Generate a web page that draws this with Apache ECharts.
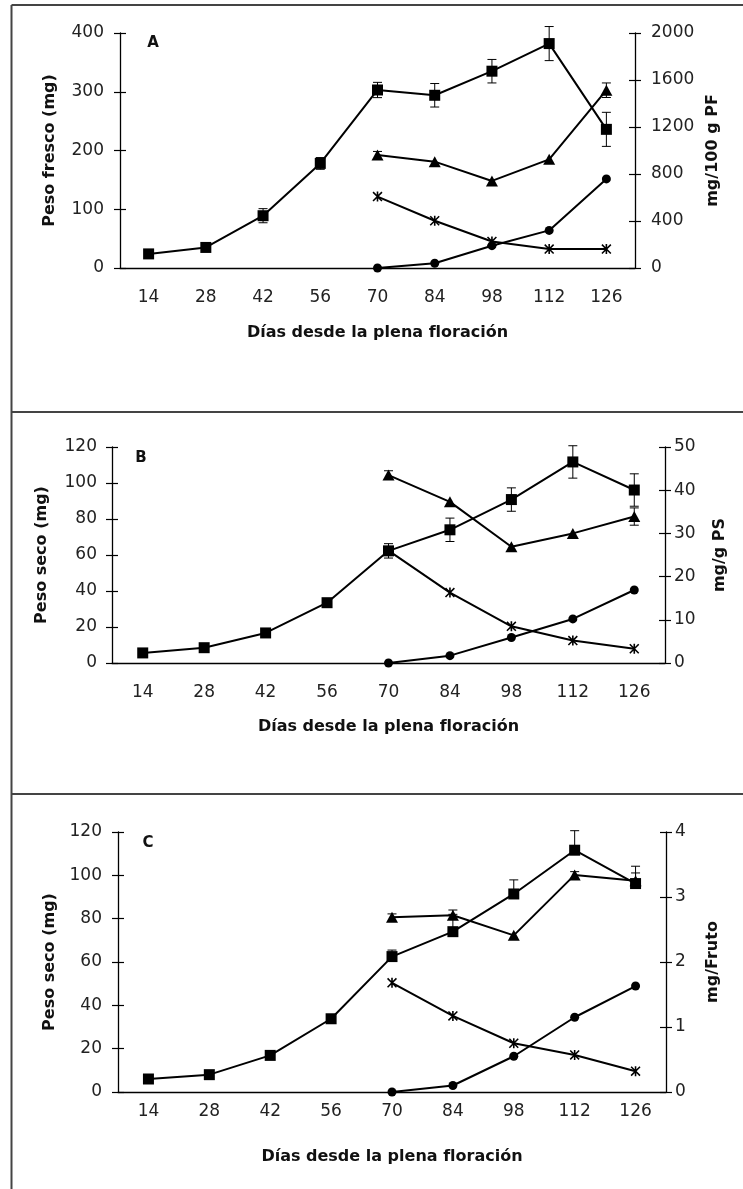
<!DOCTYPE html>
<html lang="es">
<head>
<meta charset="UTF-8">
<title>Peso fresco y seco</title>
<style>
  html,body{margin:0;width:100%;height:100%;background:#fff;}
  #chart{width:743px;height:1189px;}
</style>
</head>
<body>
<div id="chart"></div>
<script src="https://cdn.jsdelivr.net/npm/echarts@6/dist/echarts.min.js"></script>
<script>
// días desde la plena floración
var days = ['14', '28', '42', '56', '70', '84', '98', '112', '126'];

// A: peso fresco (mg) y mg/100 g PF
var squaresA = [24, 35, 89, 178, 303, 294, 335, 382, 236];
var squaresErrA = [0, 0, 12, 10, 13, 20, 20, 29, 29];
var trianglesA = [null, null, null, null, 962, 905, 741, 925, 1513];
var trianglesErrA = [0, 0, 0, 0, 30, 0, 0, 0, 62];
var circlesA = [null, null, null, null, 0, 40, 190, 320, 758];
var starsA = [null, null, null, null, 608, 402, 226, 161, 161];

// B: peso seco (mg) y mg/g PS
var squaresB = [5.6, 8.5, 16.7, 33.5, 62.3, 74, 90.8, 111.7, 96.1];
var squaresErrB = [0, 0, 0, 0, 4, 6.5, 6.5, 9, 9];
var trianglesB = [null, null, null, null, 43.5, 37.3, 26.9, 30.0, 33.9];
var trianglesErrB = [0, 0, 0, 0, 1, 0, 0, 0, 2];
var circlesB = [null, null, null, null, 0, 1.7, 5.9, 10.2, 16.9];
var starsB = [null, null, null, null, 26, 16.3, 8.5, 5.2, 3.3];

// C: peso seco (mg) y mg/Fruto
var squaresC = [6, 8, 16.9, 33.8, 62.5, 74, 91.4, 111.6, 96.2];
var squaresErrC = [0, 0, 0, 0, 3, 8, 6.5, 9, 8];
var trianglesC = [null, null, null, null, 2.69, 2.72, 2.41, 3.34, 3.25];
var trianglesErrC = [0, 0, 0, 0, 0.05, 0.08, 0, 0.05, 0.12];
var circlesC = [null, null, null, null, 0, 0.1, 0.55, 1.15, 1.63];
var starsC = [null, null, null, null, 1.68, 1.17, 0.75, 0.57, 0.32];

var xTitle = 'Días desde la plena floración';

var panels = [
  { letter: 'A', leftName: 'Peso fresco (mg)', rightName: 'mg/100 g PF',
    leftMax: 400, leftStep: 100, rightMax: 2000, rightStep: 400,
    squares: squaresA, squaresErr: squaresErrA, bothSides: true,
    triangles: trianglesA, trianglesErr: trianglesErrA, circles: circlesA, stars: starsA,
    grid: { left: 120, top: 33, width: 515, height: 235 },
    leftNameX: 50, rightNameX: 713, xNameY: 333, letterX: 153, letterY: 43,
    xLabelMargin: 21, leftLabelMargin: 16, rightLabelMargin: 16 },
  { letter: 'B', leftName: 'Peso seco (mg)', rightName: 'mg/g PS',
    leftMax: 120, leftStep: 20, rightMax: 50, rightStep: 10,
    squares: squaresB, squaresErr: squaresErrB, bothSides: true,
    triangles: trianglesB, trianglesErr: trianglesErrB, circles: circlesB, stars: starsB,
    grid: { left: 112, top: 447, width: 553, height: 216 },
    leftNameX: 42, rightNameX: 720, xNameY: 727, letterX: 141, letterY: 458,
    xLabelMargin: 21, leftLabelMargin: 15, rightLabelMargin: 9 },
  { letter: 'C', leftName: 'Peso seco (mg)', rightName: 'mg/Fruto',
    leftMax: 120, leftStep: 20, rightMax: 4, rightStep: 1,
    squares: squaresC, squaresErr: squaresErrC, bothSides: false,
    triangles: trianglesC, trianglesErr: trianglesErrC, circles: circlesC, stars: starsC,
    grid: { left: 118, top: 832, width: 548, height: 260 },
    leftNameX: 50, rightNameX: 713, xNameY: 1157, letterX: 148, letterY: 843,
    xLabelMargin: 11, leftLabelMargin: 16, rightLabelMargin: 9 }
];

var tickFont = { fontFamily: 'DejaVu Sans', fontSize: 17, color: '#222' };
var boldFont = 'bold 16px "DejaVu Sans"';
var starPath = 'path://M4.2,0H5.8V10H4.2Z M0,1.1L1.1,0L10,8.9L8.9,10Z M8.9,0L10,1.1L1.1,10L0,8.9Z';

function errItems(values, errs, both) {
  var out = [];
  values.forEach(function (v, i) {
    if (v != null && errs[i] > 0) out.push([i, v, both ? errs[i] : 0, errs[i]]);
  });
  return out;
}

function renderErr(params, api) {
  var x = api.value(0), v = api.value(1), lo = api.value(2), hi = api.value(3);
  var top = api.coord([x, v + hi]);
  var bot = api.coord([x, v - lo]);
  var st = { stroke: '#000', lineWidth: 1 };
  var kids = [{ type: 'line', shape: { x1: top[0], y1: top[1], x2: bot[0], y2: bot[1] }, style: st }];
  if (hi > 0) kids.push({ type: 'line', shape: { x1: top[0] - 4.5, y1: top[1], x2: top[0] + 4.5, y2: top[1] }, style: st });
  if (lo > 0) kids.push({ type: 'line', shape: { x1: bot[0] - 4.5, y1: bot[1], x2: bot[0] + 4.5, y2: bot[1] }, style: st });
  return { type: 'group', children: kids };
}

function lineSeries(xi, yi, data, symbol, size) {
  return {
    type: 'line', xAxisIndex: xi, yAxisIndex: yi, data: data,
    symbol: symbol, symbolSize: size, showAllSymbol: true, z: 3,
    lineStyle: { color: '#000', width: 2 },
    itemStyle: { color: '#000' }
  };
}

function plain(v) { return String(v); }

var grids = [], xAxes = [], yAxes = [], series = [], graphic = [];
var axisLine = { show: true, lineStyle: { color: '#000', width: 1.3 } };
var tickStyle = { color: '#000', width: 1.2 };

panels.forEach(function (p, i) {
  grids.push(p.grid);
  var xi = 2 * i, yl = 4 * i, yr = 4 * i + 2;

  xAxes.push({ type: 'category', gridIndex: i, data: days, position: 'bottom',
    axisLine: axisLine, axisTick: { length: 5, lineStyle: tickStyle },
    axisLabel: Object.assign({ margin: p.xLabelMargin }, tickFont) });
  xAxes.push({ type: 'category', gridIndex: i, data: days, position: 'bottom',
    axisLine: { show: false }, axisTick: { inside: true, length: 6, lineStyle: tickStyle },
    axisLabel: { show: false } });

  [['left', p.leftMax, p.leftStep, p.leftLabelMargin], ['right', p.rightMax, p.rightStep, p.rightLabelMargin]].forEach(function (a) {
    yAxes.push({ type: 'value', gridIndex: i, position: a[0], min: 0, max: a[1], interval: a[2],
      axisLine: axisLine, axisTick: { show: true, length: 6, lineStyle: tickStyle },
      splitLine: { show: false },
      axisLabel: Object.assign({ margin: a[3], formatter: plain }, tickFont) });
    yAxes.push({ type: 'value', gridIndex: i, position: a[0], min: 0, max: a[1], interval: a[2],
      axisLine: { show: false }, axisTick: { show: true, inside: true, length: 6, lineStyle: tickStyle },
      splitLine: { show: false }, axisLabel: { show: false } });
  });

  series.push({ type: 'custom', xAxisIndex: xi, yAxisIndex: yl, renderItem: renderErr, z: 2,
    encode: { x: 0, y: 1 }, data: errItems(p.squares, p.squaresErr, p.bothSides) });
  series.push({ type: 'custom', xAxisIndex: xi, yAxisIndex: yr, renderItem: renderErr, z: 2,
    encode: { x: 0, y: 1 }, data: errItems(p.triangles, p.trianglesErr, p.bothSides) });
  series.push(lineSeries(xi, yl, p.squares, 'rect', 11));
  series.push(lineSeries(xi, yr, p.triangles, 'triangle', [12, 11]));
  series.push(lineSeries(xi, yr, p.circles, 'circle', 9));
  series.push(lineSeries(xi, yr, p.stars, starPath, [10, 10]));

  var midY = p.grid.top + p.grid.height / 2;
  var midX = p.grid.left + p.grid.width / 2;
  graphic.push({ type: 'text', x: p.leftNameX, y: midY, rotation: Math.PI / 2,
    style: { text: p.leftName, font: boldFont, fill: '#111', align: 'center', verticalAlign: 'middle' } });
  graphic.push({ type: 'text', x: p.rightNameX, y: midY, rotation: Math.PI / 2,
    style: { text: p.rightName, font: boldFont, fill: '#111', align: 'center', verticalAlign: 'middle' } });
  graphic.push({ type: 'text', x: midX, y: p.xNameY,
    style: { text: xTitle, font: boldFont, fill: '#111', align: 'center', verticalAlign: 'middle' } });
  graphic.push({ type: 'text', x: p.letterX, y: p.letterY,
    style: { text: p.letter, font: 'bold 15px "DejaVu Sans"', fill: '#111', align: 'center', verticalAlign: 'middle' } });
});

// marcos de los paneles
var frame = { stroke: '#444', lineWidth: 2 };
[[11.5, 5, 11.5, 1189], [11.5, 5, 743, 5], [11.5, 412, 743, 412], [11.5, 794, 743, 794]].forEach(function (l) {
  graphic.push({ type: 'line', shape: { x1: l[0], y1: l[1], x2: l[2], y2: l[3] }, style: frame, z: 10 });
});

var myChart = echarts.init(document.getElementById('chart'));
myChart.setOption({
  animation: false,
  backgroundColor: '#fff',
  grid: grids,
  xAxis: xAxes,
  yAxis: yAxes,
  series: series,
  graphic: graphic
});
</script>
</body>
</html>
